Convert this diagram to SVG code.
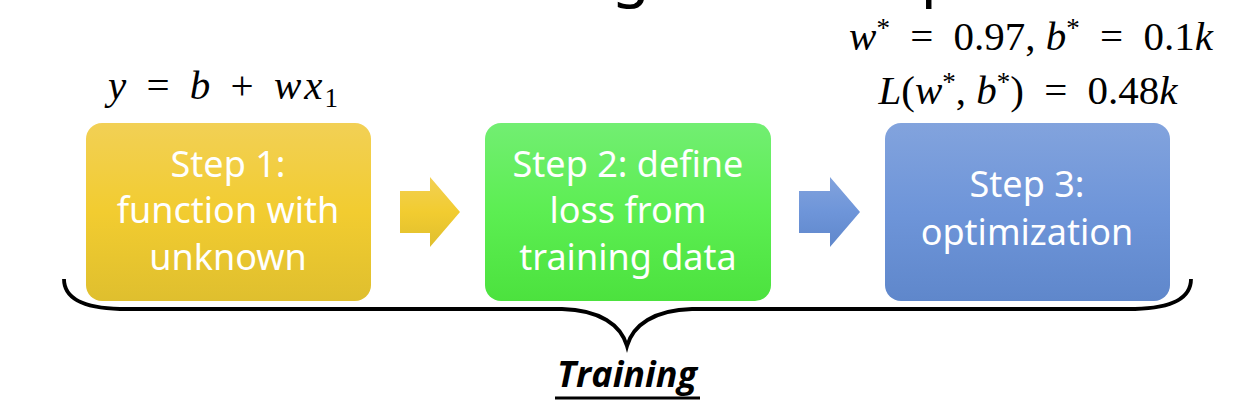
<svg xmlns="http://www.w3.org/2000/svg" width="1256" height="418" viewBox="0 0 1256 418">
<style>
.step{font-family:"Noto Sans","Open Sans",sans-serif;font-size:36px;fill:#ffffff;text-anchor:middle}
.math{font-family:"Liberation Serif","DejaVu Serif",serif;font-size:41px;fill:#000000;text-anchor:middle;word-spacing:10px}
.it{font-style:italic}
.ns{word-spacing:0px}
.sup{font-size:27px}
.title{font-family:"Noto Sans","Open Sans",sans-serif;font-size:62px;fill:#000000}
</style>
<defs>
<linearGradient id="gy" x1="0" y1="0" x2="0" y2="1"><stop offset="0" stop-color="#F2D055"/><stop offset="0.5" stop-color="#F2CC30"/><stop offset="1" stop-color="#DFBF2E"/></linearGradient>
<linearGradient id="gg" x1="0" y1="0" x2="0" y2="1"><stop offset="0" stop-color="#72EE72"/><stop offset="0.5" stop-color="#5CEE52"/><stop offset="1" stop-color="#4CE23E"/></linearGradient>
<linearGradient id="gb" x1="0" y1="0" x2="0" y2="1"><stop offset="0" stop-color="#82A3DD"/><stop offset="0.5" stop-color="#6E95D9"/><stop offset="1" stop-color="#5F87CB"/></linearGradient>
</defs>
<rect width="1256" height="418" fill="#ffffff"/>
<text class="title" x="650" y="-6" text-anchor="end">Machine Learning</text>
<text class="title" x="672" y="-6">is so simple ……</text>
<g id="connectors">
<path id="brace" d="M64,279 C64,297 80,308 120,309 L562,309 C600,310 621,325 627,346 C633,325 654,310 692,309 L1135,309 C1175,308 1191,297 1191,279" fill="none" stroke="#000" stroke-width="3.8"/>
<polygon id="arrow1" points="400,191 430,191 430,177 460,212 430,247 430,233 400,233" fill="url(#gy)"/>
<polygon id="arrow2" points="799,191 830,191 830,177 860,212 830,247 830,233 799,233" fill="url(#gb)"/>
</g>
<g id="step1">
<rect x="86" y="123" width="285" height="178" rx="16" fill="url(#gy)"/>
<text class="step" x="228" y="177">Step 1:</text>
<text class="step" x="228" y="223">function with</text>
<text class="step" x="228" y="270">unknown</text>
</g>
<g id="step2">
<rect x="485" y="123" width="286" height="178" rx="16" fill="url(#gg)"/>
<text class="step" x="628" y="177">Step 2: define</text>
<text class="step" x="628" y="223">loss from</text>
<text class="step" x="628" y="270">training data</text>
</g>
<g id="step3">
<rect x="885" y="123" width="285" height="178" rx="16" fill="url(#gb)"/>
<text class="step" x="1027" y="197">Step 3:</text>
<text class="step" x="1027" y="245">optimization</text>
</g>
<g id="formula1">
<text class="math" x="223" y="99"><tspan class="it">y</tspan> = <tspan class="it">b</tspan> + <tspan class="it">w</tspan><tspan class="it" dx="3">x</tspan><tspan class="sup" dx="2" dy="8">1</tspan></text>
</g>
<g id="formula2">
<text class="math" x="1031" y="50"><tspan class="it">w</tspan><tspan class="sup" dy="-13">*</tspan><tspan dy="13"> = 0.97</tspan><tspan class="ns">, </tspan><tspan class="it">b</tspan><tspan class="sup" dy="-13">*</tspan><tspan dy="13"> = 0.1</tspan><tspan class="it">k</tspan></text>
<text class="math" x="1028" y="104"><tspan class="it">L</tspan>(<tspan class="it">w</tspan><tspan class="sup" dy="-13">*</tspan><tspan class="ns" dy="13">, </tspan><tspan class="it">b</tspan><tspan class="sup" dy="-13">*</tspan><tspan dy="13">) = 0.48</tspan><tspan class="it">k</tspan></text>
</g>
<g id="label">
<text x="627" y="387" font-family="'Open Sans','Noto Sans',sans-serif" font-size="36" font-weight="bold" font-style="italic" text-anchor="middle" fill="#000">Training</text>
<line x1="555" y1="398" x2="700" y2="398" stroke="#000" stroke-width="3"/>
</g>
</svg>
